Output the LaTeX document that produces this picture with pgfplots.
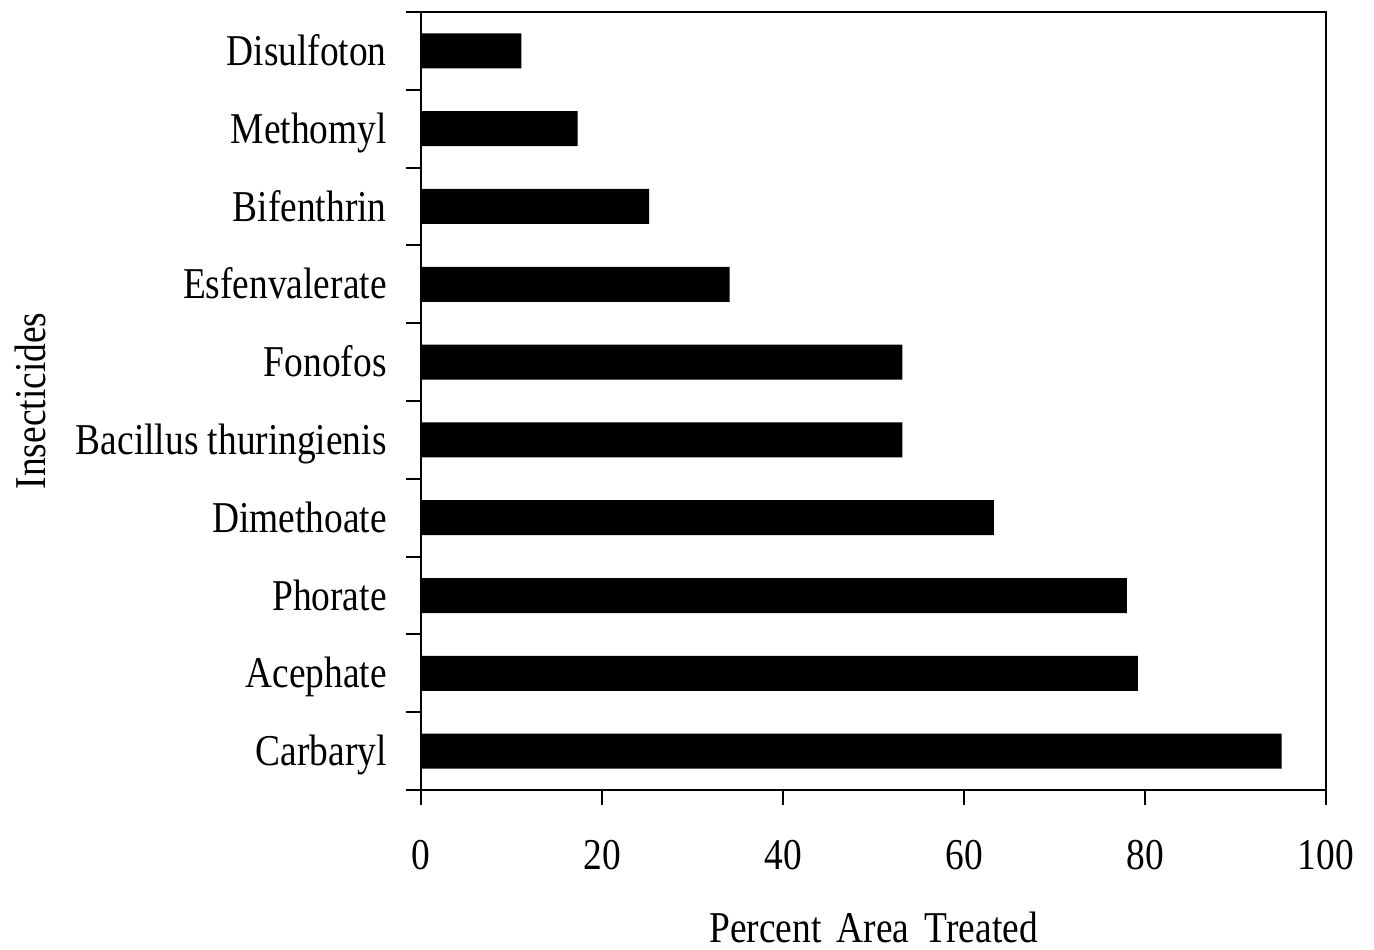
\documentclass[border=0pt]{standalone}
\usepackage{fontspec}
\setmainfont{Liberation Serif}[FakeStretch=0.85]
\usepackage{pgfplots}
\pgfplotsset{compat=1.18}
\begin{document}
\begin{tikzpicture}
\useasboundingbox (-210.5pt,-79.5pt) rectangle (476.5pt,395pt);
\begin{axis}[
  at={(0,0)}, anchor=south west,
  scale only axis, width=452.5pt, height=389pt,
  xbar, bar width=17.5pt,
  xmin=0, xmax=100, ymin=-0.5, ymax=9.5,
  xtick={0,20,...,100},
  ytick={-0.5,0.5,...,9.5}, yticklabels={},
  extra y ticks={0,1,2,3,4,5,6,7,8,9},
  extra y tick labels={Carbaryl,Acephate,Phorate,Dimethoate,Bacillus thuringienis,Fonofos,Esfenvalerate,Bifenthrin,Methomyl,Disulfoton},
  extra y tick style={major tick length=0pt},
  xtick pos=bottom, ytick pos=left,
  tick align=outside, major tick length=7.5pt,
  axis line style={line width=1pt},
  every tick/.style={black, line width=1pt},
  /pgf/number format/assume math mode=true,
  tick label style={font=\fontsize{22}{26}\selectfont},
  xticklabel style={anchor=north, inner sep=0pt, yshift=-17.5pt},
  yticklabel style={anchor=base east, inner sep=0pt, xshift=-17pt, yshift=-7.3pt},
  xlabel={Percent\hspace{0.35em}Area\hspace{0.35em}Treated},
  ylabel={Insecticides},
  label style={font=\fontsize{22}{26}\selectfont},
  xlabel style={at={(axis description cs:0.5,0)}, anchor=base, inner sep=0pt, yshift=-76pt},
  ylabel style={at={(axis description cs:0,0.5)}, anchor=north, inner sep=0pt, yshift=203pt},
]
\addplot[fill=black, draw=none] coordinates {
 (95.1,0) (79.2,1) (78.0,2) (63.3,3) (53.2,4) (53.2,5) (34.1,6) (25.2,7) (17.3,8) (11.1,9)
};
\end{axis}
\end{tikzpicture}
\end{document}
